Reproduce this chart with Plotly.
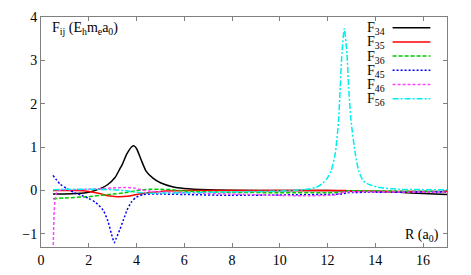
import plotly.graph_objects as go

# ---- data ----
x34 = [0.5, 1.0, 1.5, 2.0, 2.5, 2.8, 3.1, 3.3, 3.4, 3.6, 3.8, 3.9, 4.0, 4.2, 4.4, 4.7, 5.0, 5.5, 6.0, 7.0, 8.0, 10, 12, 14, 15, 16, 17]
y34 = [-0.08, -0.08, -0.07, -0.04, 0.05, 0.14, 0.30, 0.50, 0.60, 0.85, 1.01, 1.03, 0.97, 0.70, 0.45, 0.28, 0.18, 0.09, 0.05, 0.02, 0.01, 0.0, 0.0, -0.02, -0.04, -0.07, -0.09]

x35 = [0.5, 1, 1.5, 2, 2.4, 2.8, 3.2, 3.6, 4.0, 4.5, 5, 6, 8, 10, 12, 12.7, 13, 15, 17]
y35 = [0.0, 0.0, 0.0, -0.02, -0.06, -0.12, -0.14, -0.13, -0.09, -0.05, -0.02, 0.0, 0.0, 0.0, 0.0, 0.0, -0.01, -0.02, -0.02]

x36 = [0.5, 1, 2, 2.5, 3, 3.5, 4, 4.5, 5, 5.5, 6, 8, 10, 12, 12.6, 12.8, 14, 17]
y36 = [-0.19, -0.17, -0.14, -0.11, -0.08, -0.05, 0.0, 0.03, 0.03, 0.02, -0.01, -0.04, -0.05, -0.05, -0.04, -0.01, -0.01, -0.02]

x45 = [0.5, 0.8, 1.1, 1.4, 1.7, 2.0, 2.3, 2.6, 2.8, 2.95, 3.07, 3.15, 3.3, 3.45, 3.6, 3.8, 4.0, 4.3, 5, 6, 8, 10, 12, 12.6, 12.8, 14, 17]
y45 = [0.35, 0.15, 0.04, -0.05, -0.11, -0.18, -0.28, -0.45, -0.70, -1.0, -1.2, -1.1, -0.9, -0.68, -0.45, -0.25, -0.15, -0.09, -0.08, -0.09, -0.11, -0.10, -0.09, -0.08, -0.05, -0.04, -0.03]

x46 = [0.5, 0.55, 0.6, 0.65, 0.75, 1.0, 1.5, 2, 2.5, 3, 3.5, 3.9, 4.2, 4.5, 5, 6, 8, 10, 11, 12, 12.4, 12.6, 12.8, 14, 17]
y46 = [-1.6, -0.5, -0.15, -0.05, 0.0, 0.02, 0.02, 0.03, 0.04, 0.06, 0.07, 0.06, 0.02, -0.01, -0.03, -0.05, -0.08, -0.11, -0.12, -0.11, -0.09, -0.05, -0.03, -0.03, -0.03]

x56 = [0.5, 1, 2, 3, 3.5, 4, 4.5, 5, 6, 8, 10, 11, 11.5, 11.76, 12.0, 12.15, 12.32, 12.46, 12.53, 12.6, 12.7, 12.81, 12.88, 12.98, 13.16, 13.3, 13.5, 13.79, 14.2, 15, 17]
y56 = [0.02, 0.03, 0.03, 0.02, 0.0, -0.04, -0.06, -0.06, -0.05, -0.03, -0.01, 0.02, 0.07, 0.15, 0.30, 0.46, 0.85, 1.62, 2.39, 3.16, 3.73, 3.16, 2.39, 1.62, 0.85, 0.46, 0.22, 0.13, 0.07, 0.03, 0.02]

names = ["F<sub>34</sub>", "F<sub>35</sub>", "F<sub>36</sub>", "F<sub>45</sub>", "F<sub>46</sub>", "F<sub>56</sub>"]
colors = ["#000000", "#ff0000", "#00cc00", "#0000ff", "#ff44ff", "#00eeee"]
dashes = ["solid", "solid", "4px,2px", "2px,2px", "3px,2px", "6px,2px,2px,2px"]

xtick_vals = [0, 2, 4, 6, 8, 10, 12, 14, 16]
ytick_vals = [-1, 0, 1, 2, 3, 4]

series = [(x34, y34), (x35, y35), (x36, y36), (x45, y45), (x46, y46), (x56, y56)]

fig = go.Figure()
for (xs, ys), n, c, d in zip(series, names, colors, dashes):
    fig.add_trace(go.Scatter(x=xs, y=ys, mode="lines", name=n, showlegend=False,
                             line=dict(color=c, width=1.5, dash=d, shape="spline", smoothing=0.6)))

font = "Liberation Serif"

# legend drawn at the right like gnuplot (text then sample)
ly = [0.953, 0.891, 0.830, 0.768, 0.707, 0.645]
for n, c, d, yy in zip(names, colors, dashes, ly):
    fig.add_shape(type="line", xref="paper", yref="paper", x0=0.866, x1=0.959, y0=yy, y1=yy,
                  line=dict(color=c, width=1.5, dash=d))
    fig.add_annotation(text=n, xref="paper", yref="paper", x=0.852, y=yy - 0.004,
                       xanchor="right", yanchor="middle", showarrow=False,
                       font=dict(family=font, size=14, color="black"))

fig.add_annotation(text="F<sub>ij</sub> (E<sub>h</sub>m<sub>e</sub>a<sub>0</sub>)", xref="paper", yref="paper",
                   x=0.022, y=0.948, xanchor="left", yanchor="middle", showarrow=False,
                   font=dict(family=font, size=14, color="black"))
fig.add_annotation(text="R (a<sub>0</sub>)", xref="paper", yref="paper",
                   x=0.985, y=0.05, xanchor="right", yanchor="middle", showarrow=False,
                   font=dict(family=font, size=14, color="black"))

axis_common = dict(showline=True, mirror="ticks", linecolor="#808080", linewidth=1,
                   ticks="inside", ticklen=4, tickcolor="#808080", showgrid=False, zeroline=False,
                   tickfont=dict(family=font, size=14, color="black"))
fig.update_xaxes(range=[0, 17], tickvals=xtick_vals, **axis_common)
fig.update_yaxes(range=[-1.3, 4], tickvals=ytick_vals, **axis_common)

# page body has an 8px margin: figure is shifted by 8px, so compensate
fig.update_layout(width=463, height=267, margin=dict(l=33, r=24, t=9, b=28, autoexpand=False),
                  plot_bgcolor="white", paper_bgcolor="white", showlegend=False)

fig.write_html("out.html")
